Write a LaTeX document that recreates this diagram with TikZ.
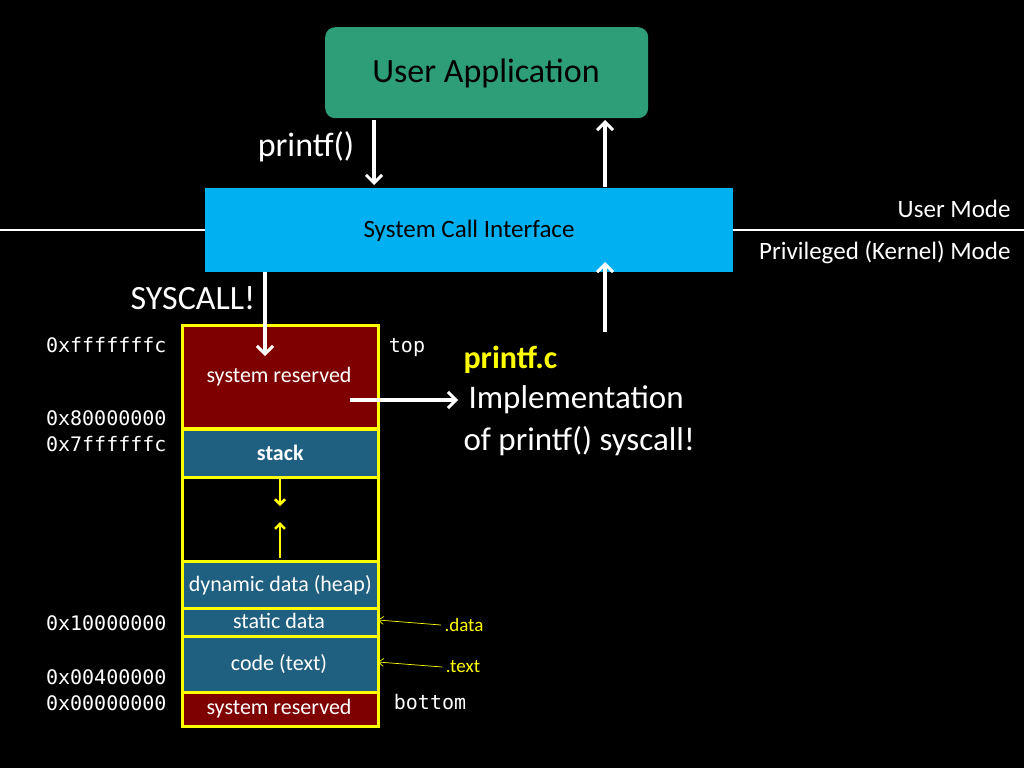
\documentclass[tikz,border=0pt]{standalone}
\usepackage{fontspec}
\setmainfont{Carlito}
\newfontfamily\mono{DejaVu Sans Mono}
\usetikzlibrary{arrows.meta}
\definecolor{appg}{HTML}{2E9E78}
\definecolor{sci}{HTML}{00B0F0}
\definecolor{dred}{HTML}{7F0000}
\definecolor{mblue}{HTML}{1F5F80}
\definecolor{ylw}{HTML}{FFFF00}
\begin{document}
\begin{tikzpicture}[x=1pt,y=-1pt,
  warrow/.style={draw=white,line width=3.5pt,-{Straight Barb[length=8pt,width=16pt,line width=3pt]}},
  yarrow/.style={draw=ylw,line width=2.5pt,-{Straight Barb[length=5pt,width=10pt,line width=2.5pt]}},
  tarrow/.style={draw=ylw,line width=0.7pt,-{Straight Barb[length=5pt,width=8pt]}},
  mem/.style={draw=ylw,line width=2.5pt,minimum width=196pt,anchor=north west,inner sep=0pt,text=white,font=\fontsize{22}{26}\selectfont},
  ml/.style={text=white,font=\fontsize{22}{26}\selectfont},
  addr/.style={text=white,font=\mono\fontsize{20}{24}\selectfont,anchor=east},
  wt/.style={text=white}]
\fill[black] (0,0) rectangle (1024,768);
\useasboundingbox (0,0) rectangle (1024,768);
\draw[white,line width=2.5pt] (0,230) -- (1024,230);
\node[fill=appg,rounded corners=10pt,minimum width=323pt,minimum height=91pt,anchor=north west,inner sep=0pt] (app) at (325,27) {};
\node[font=\fontsize{34}{40}\selectfont,text=black] (appt) at (486,73) {User Application};
\node[fill=sci,minimum width=528pt,minimum height=84pt,anchor=north west,inner sep=0pt] (sci) at (205,188) {};
\node[font=\fontsize{25}{30}\selectfont,text=black] (scit) at (469,231) {System Call Interface};
\node[wt,font=\fontsize{34}{40}\selectfont] (pf) at (306,147) {printf()};
\coordinate (a1) at (374,120); \coordinate (a1e) at (374,185);
\draw[warrow] (a1) -- (a1e);
\coordinate (a2) at (605,187); \coordinate (a2e) at (605,120);
\draw[warrow] (a2) -- (a2e);
\node[wt,anchor=east,font=\fontsize{25}{30}\selectfont] (um) at (1014,209) {User Mode};
\node[wt,anchor=east,font=\fontsize{25}{30}\selectfont] (km) at (1014,253) {Privileged (Kernel) Mode};
\node[wt,font=\fontsize{34}{40}\selectfont] (sys) at (193,298) {SYSCALL!};
% memory
\node[mem,fill=dred,minimum height=103pt] (sr) at (181,324) {};
\node[ml] at (279,377) {system reserved};
\node[mem,fill=mblue,minimum height=48pt,font=\bfseries\fontsize{22}{26}\selectfont] (stack) at (181,428) {stack};
\node[mem,fill=black,minimum height=84pt] (gap) at (181,476) {};
\node[mem,fill=mblue,minimum height=47pt] (heap) at (181,560) {dynamic data (heap)};
\node[mem,fill=mblue,minimum height=28pt] (stat) at (181,607) {};
\node[ml] at (279,621) {static data};
\node[mem,fill=mblue,minimum height=56pt] (code) at (181,635) {};
\node[ml] at (279,664) {code (text)};
\node[mem,fill=dred,minimum height=34pt] (sr2) at (181,691) {};
\node[ml] at (279,709) {system reserved};
\coordinate (s1) at (265,272); \coordinate (s1e) at (265,356);
\draw[warrow] (s1) -- (s1e);
\coordinate (a3) at (605,332); \coordinate (a3e) at (605,262);
\draw[warrow] (a3) -- (a3e);
\coordinate (y1) at (280,478); \coordinate (y1e) at (280,506);
\draw[yarrow] (y1) -- (y1e);
\coordinate (y2) at (280,558); \coordinate (y2e) at (280,522);
\draw[yarrow] (y2) -- (y2e);
\node[addr] at (170,345) {0xfffffffc};
\node[addr] at (170,418) {0x80000000};
\node[addr] at (170,444) {0x7ffffffc};
\node[addr] at (170,623) {0x10000000};
\node[addr] at (170,677) {0x00400000};
\node[addr] at (170,703) {0x00000000};
\node[wt,font=\mono\fontsize{20}{24}\selectfont] at (407,348) {top};
\node[wt,font=\mono\fontsize{20}{24}\selectfont] at (430,702) {bottom};
\coordinate (im) at (350,400); \coordinate (ime) at (458,400);
\draw[warrow] (im) -- (ime);
\node[text=ylw,font=\bfseries\fontsize{32}{38}\selectfont,anchor=west] (pc) at (460,360) {printf.c};
\node[wt,font=\fontsize{33}{40}\selectfont,anchor=west] (impl) at (465,400) {Implementation};
\node[wt,font=\fontsize{33}{40}\selectfont,anchor=west] (impl2) at (460,441) {of printf() syscall!};
\node[text=ylw,font=\fontsize{19}{22}\selectfont] (dd) at (464,625) {.data};
\node[text=ylw,font=\fontsize{19}{22}\selectfont] (tt) at (463,667) {.text};
\draw[tarrow] (dd.west) -- (378,620);
\draw[tarrow] (tt.west) -- (378,662);
\end{tikzpicture}
\end{document}
